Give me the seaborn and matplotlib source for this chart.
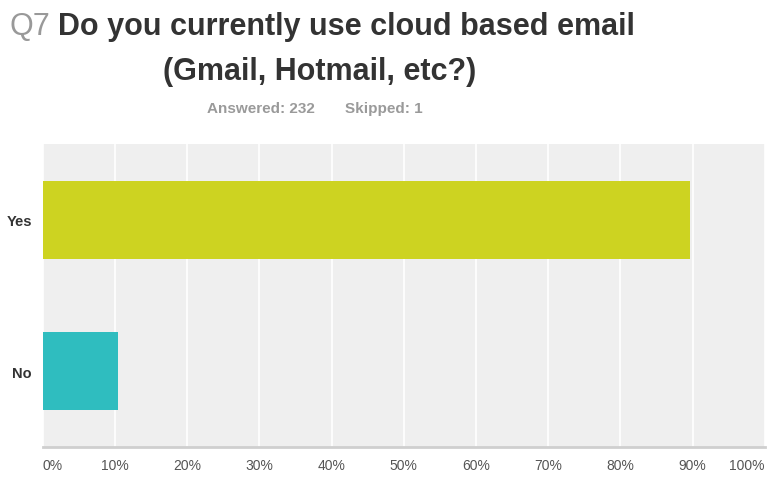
import matplotlib
matplotlib.use("Agg")
import matplotlib.pyplot as plt
import seaborn as sns
import pandas as pd

# Survey responses (share of respondents, %)
answers = ["Yes", "No"]
shares = [89.66, 10.34]
bar_colors = ["#cdd321", "#2fbdbf"]
tick_values = [0, 10, 20, 30, 40, 50, 60, 70, 80, 90, 100]
tick_labels = ["0%", "10%", "20%", "30%", "40%", "50%", "60%", "70%", "80%", "90%", "100%"]

sns.set_theme(style="white")
plt.rcParams["font.family"] = ["Liberation Sans", "DejaVu Sans"]

df = pd.DataFrame({"answer": answers, "share": shares})

fig = plt.figure(figsize=(7.67, 4.81), dpi=100)
ax = fig.add_axes([0.056, 0.0686, 0.941, 0.63])
ax.set_facecolor("#efefef")

sns.barplot(data=df, x="share", y="answer", hue="answer", palette=bar_colors,
            order=answers, hue_order=answers, width=0.515, orient="h",
            saturation=1, legend=False, ax=ax, zorder=3, edgecolor="none")

ax.set_xlim(0, 100)
ax.set_ylim(1.5, -0.5)
ax.set_xticks(tick_values)
ax.xaxis.grid(True, color="white", linewidth=1.2, zorder=1)
ax.set_axisbelow(True)
ax.set_xlabel("")
ax.set_ylabel("")

labels = ax.set_xticklabels(tick_labels, color="#555555", fontsize=10)
labels[0].set_ha("left")
labels[-1].set_ha("right")
ax.tick_params(axis="x", length=0, pad=8)
ax.tick_params(axis="y", length=0, pad=8)
for lab in ax.get_yticklabels():
    lab.set_fontweight("bold")
    lab.set_fontsize(10.5)
    lab.set_color("#333333")

for side in ["top", "right", "left"]:
    ax.spines[side].set_visible(False)
ax.spines["bottom"].set_color("#cfcfcf")
ax.spines["bottom"].set_linewidth(2)

# Title: question number in grey, question text in dark grey
fig.text(0.013, 0.927, "Q7", fontsize=22, color="#999999", ha="left", va="baseline")
fig.text(0.075, 0.927, "Do you currently use cloud based email", fontsize=22,
         color="#333333", ha="left", va="baseline", fontweight="bold")
fig.text(0.212, 0.834, "(Gmail, Hotmail, etc?)", fontsize=22,
         color="#333333", ha="left", va="baseline", fontweight="bold")
fig.text(0.27, 0.766, "Answered: 232", fontsize=11, color="#9a9a9a",
         ha="left", va="baseline", fontweight="bold")
fig.text(0.45, 0.766, "Skipped: 1", fontsize=11, color="#9a9a9a",
         ha="left", va="baseline", fontweight="bold")

fig.savefig("out.png", dpi=100)
